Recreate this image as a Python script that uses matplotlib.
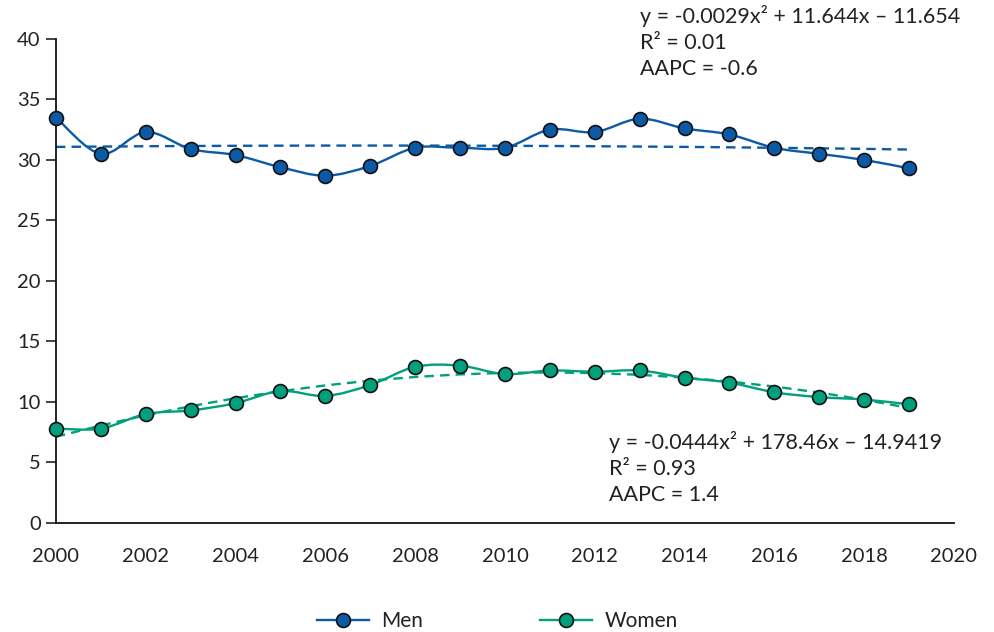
import numpy as np
import matplotlib
matplotlib.use("Agg")
import matplotlib.pyplot as plt
from matplotlib.path import Path
from matplotlib.patches import PathPatch
from matplotlib.lines import Line2D

plt.rcParams['font.family'] = ['Lato', 'DejaVu Sans']

years = list(range(2000, 2020))
men = [33.5, 30.5, 32.3, 30.9, 30.4, 29.4, 28.7, 29.5, 31.0, 31.0,
       31.0, 32.5, 32.3, 33.4, 32.6, 32.1, 31.0, 30.5, 30.0, 29.3]
women = [7.8, 7.8, 9.0, 9.3, 9.9, 10.9, 10.5, 11.4, 12.9, 13.0,
         12.3, 12.6, 12.5, 12.6, 12.0, 11.6, 10.8, 10.4, 10.2, 9.8]
men_label = "y = -0.0029x² + 11.644x – 11.654\nR² = 0.01\nAAPC = -0.6"
women_label = "y = -0.0444x² + 178.46x – 14.9419\nR² = 0.93\nAAPC = 1.4"
xticks = list(range(2000, 2021, 2))
yticks = list(range(0, 41, 5))

men_color = "#0b5aa6"
women_color = "#00a07c"
text_color = "#222222"

fig = plt.figure(figsize=(9.94, 6.32), dpi=100)
ax = fig.add_axes([0.0563, 0.1725, 0.9034, 0.766])


def smooth_path(x, y, t=0.5):
    x = np.asarray(x, float)
    y = np.asarray(y, float)
    verts = [(x[0], y[0])]
    codes = [Path.MOVETO]
    n = len(x)
    for i in range(n - 1):
        p0 = (x[max(i - 1, 0)], y[max(i - 1, 0)])
        p1 = (x[i], y[i])
        p2 = (x[i + 1], y[i + 1])
        p3 = (x[min(i + 2, n - 1)], y[min(i + 2, n - 1)])
        c1 = (p1[0] + (p2[0] - p0[0]) * t / 3, p1[1] + (p2[1] - p0[1]) * t / 3)
        c2 = (p2[0] - (p3[0] - p1[0]) * t / 3, p2[1] - (p3[1] - p1[1]) * t / 3)
        verts += [c1, c2, p2]
        codes += [Path.CURVE4] * 3
    return Path(verts, codes)


for data, col in [(men, men_color), (women, women_color)]:
    yrs = np.array(years, float)
    coef = np.polyfit(yrs - 2000, data, 2)
    trend = np.polyval(coef, yrs - 2000)
    ax.plot(yrs, trend, linestyle=(0, (4, 2.6)), color=col, lw=1.7, zorder=2)
    ax.add_patch(PathPatch(smooth_path(years, data), facecolor='none',
                           edgecolor=col, lw=1.7, zorder=3))
    ax.plot(years, data, linestyle='none', marker='o', markersize=10,
            markerfacecolor=col, markeredgecolor='#111111',
            markeredgewidth=1.2, zorder=4, clip_on=False)

ax.set_xlim(2000, 2020)
ax.set_ylim(0, 40)
ax.set_xticks(xticks)
ax.set_yticks(yticks)
ax.tick_params(axis='x', length=0, pad=18, labelsize=14.5, colors=text_color)
ax.tick_params(axis='y', length=7, width=1.2, pad=4, labelsize=14.5,
               colors=text_color)
for s in ['top', 'right']:
    ax.spines[s].set_visible(False)
for s in ['left', 'bottom']:
    ax.spines[s].set_linewidth(1.3)
    ax.spines[s].set_color('#111111')

fig.text(640 / 994, 1 - 5 / 632, men_label, ha='left', va='top',
         fontsize=15.5, color=text_color, linespacing=1.36)
fig.text(609 / 994, 1 - 431 / 632, women_label, ha='left', va='top',
         fontsize=15.5, color=text_color, linespacing=1.36)

handles = [Line2D([], [], color=men_color, lw=1.7, marker='o', markersize=10,
                  markerfacecolor=men_color, markeredgecolor='#111111',
                  markeredgewidth=1.2),
           Line2D([], [], color=women_color, lw=1.7, marker='o', markersize=10,
                  markerfacecolor=women_color, markeredgecolor='#111111',
                  markeredgewidth=1.2)]
fig.legend(handles, ['Men', 'Women'], loc='center', ncol=2,
           bbox_to_anchor=(497 / 994, 1 - 621 / 632), frameon=False,
           fontsize=15, handlelength=2.5, columnspacing=5.6, handletextpad=0.6,
           labelcolor=text_color)

fig.savefig("out.png", dpi=100)
